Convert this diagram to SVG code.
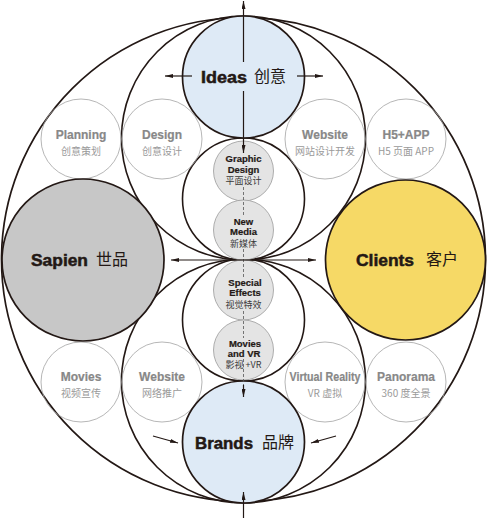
<svg xmlns="http://www.w3.org/2000/svg" width="488" height="518" viewBox="0 0 488 518">
<defs>
<style>
.ring{fill:none;stroke:#231815;stroke-width:1.6}
.ol{fill:none;stroke:#a3a3a3;stroke-width:0.8}
.gc{fill:#e4e4e4;stroke:#9a9a9a;stroke-width:0.8}
.big{stroke:#231815;stroke-width:1.7}
.en{font-family:"Liberation Sans",Arial,sans-serif;font-weight:bold}
.zh{font-family:"Noto Sans CJK SC","Liberation Sans",sans-serif}
.main{font-size:16.5px;fill:#231815;stroke:#231815;stroke-width:0.5}
.mainzh{font-size:16px;fill:#231815}
.gt{font-size:12px;fill:#888;stroke:#888;stroke-width:0.2;text-anchor:middle}
.gs{font-size:10px;fill:#9a9a9a;text-anchor:middle}
.ct{font-size:9.5px;fill:#231815;stroke:#231815;stroke-width:0.2;text-anchor:middle}
.cs{font-size:9px;fill:#3a3a3a;text-anchor:middle}
.arr{stroke:#231815;stroke-width:1.2;fill:none;marker-end:url(#ah)}
.dash{stroke:#555;stroke-width:0.8;stroke-dasharray:3 2;fill:none}
</style>
<marker id="ah" viewBox="0 0 8 4" refX="8" refY="2" markerWidth="8" markerHeight="4" markerUnits="userSpaceOnUse" orient="auto-start-reverse">
<path d="M0,0 L8,2 L0,4 z" fill="#231815"/>
</marker>
</defs>
<rect width="488" height="518" fill="#fff"/>
<g id="frame">
<circle cx="243.5" cy="259.5" r="242" fill="#fff" class="big"/>
<circle class="ring" cx="243.5" cy="138" r="122"/>
<circle class="ring" cx="243.5" cy="381" r="122"/>
<circle class="ring" cx="243.5" cy="199" r="61"/>
<circle class="ring" cx="243.5" cy="320" r="61"/>
</g>
<g id="planning"><circle class="ol" cx="81" cy="139" r="40"/><text class="en gt" x="81" y="139">Planning</text><text class="zh gs" x="81" y="154.5">创意策划</text></g>
<g id="design"><circle class="ol" cx="162" cy="139" r="40"/><text class="en gt" x="162" y="139">Design</text><text class="zh gs" x="162" y="154.5">创意设计</text></g>
<g id="website-dev"><circle class="ol" cx="325" cy="139" r="40"/><text class="en gt" x="325" y="139">Website</text><text class="zh gs" x="325" y="154.5">网站设计开发</text></g>
<g id="h5app"><circle class="ol" cx="406" cy="139" r="40"/><text class="en gt" x="406" y="139">H5+APP</text><text class="zh gs" x="406" y="154.5">H5 页面 APP</text></g>
<g id="movies"><circle class="ol" cx="81" cy="382" r="40"/><text class="en gt" x="81" y="381">Movies</text><text class="zh gs" x="81" y="396.5">视频宣传</text></g>
<g id="website-promo"><circle class="ol" cx="162" cy="382" r="40"/><text class="en gt" x="162" y="381">Website</text><text class="zh gs" x="162" y="396.5">网络推广</text></g>
<g id="vr"><circle class="ol" cx="325" cy="382" r="40"/><text class="en gt" x="325" y="381" textLength="71" lengthAdjust="spacingAndGlyphs">Virtual Reality</text><text class="zh gs" x="325" y="396.5">VR 虚拟</text></g>
<g id="panorama"><circle class="ol" cx="406" cy="382" r="40"/><text class="en gt" x="406" y="381">Panorama</text><text class="zh gs" x="406" y="396.5">360 度全景</text></g>
<g id="graphic-design"><circle class="gc" cx="243.5" cy="171" r="30"/><text class="en ct" x="243.5" y="162">Graphic</text><text class="en ct" x="243.5" y="172.5">Design</text><text class="zh cs" x="243.5" y="184">平面设计</text></g>
<g id="new-media"><circle class="gc" cx="243.5" cy="230" r="30"/><text class="en ct" x="243.5" y="225">New</text><text class="en ct" x="243.5" y="234.5">Media</text><text class="zh cs" x="243.5" y="247">新媒体</text></g>
<g id="special-effects"><circle class="gc" cx="243.5" cy="290" r="30"/><text class="en ct" x="245" y="286">Special</text><text class="en ct" x="245" y="296">Effects</text><text class="zh cs" x="243.5" y="308">视觉特效</text></g>
<g id="movies-vr"><circle class="gc" cx="243.5" cy="350" r="30"/><text class="en ct" x="245" y="347">Movies</text><text class="en ct" x="244" y="357">and VR</text><text class="zh cs" x="243.5" y="368">影视 +VR</text></g>
<g id="ideas"><circle class="big" cx="243.5" cy="77" r="61" fill="#deeaf6"/><text class="en main" x="201" y="83" textLength="46" lengthAdjust="spacingAndGlyphs">Ideas</text><text class="zh mainzh" x="254" y="82">创意</text></g>
<g id="brands"><circle class="big" cx="243.5" cy="442" r="61" fill="#deeaf6"/><text class="en main" x="195" y="449" textLength="58" lengthAdjust="spacingAndGlyphs">Brands</text><text class="zh mainzh" x="262" y="448">品牌</text></g>
<g id="sapien"><circle class="big" cx="83" cy="260" r="81" fill="#c7c7c7"/><text class="en main" x="31" y="266" textLength="57" lengthAdjust="spacingAndGlyphs">Sapien</text><text class="zh mainzh" x="96" y="265">世品</text></g>
<g id="clients"><circle class="big" cx="405.5" cy="260" r="80" fill="#f6d966"/><text class="en main" x="356" y="266" textLength="58" lengthAdjust="spacingAndGlyphs">Clients</text><text class="zh mainzh" x="426" y="265">客户</text></g>
<g id="connectors">
<path class="dash" d="M243.5,187V216M243.5,249V278M243.5,311V338M243.5,359V386"/>
<path class="arr" d="M243.5,62V1"/>
<path class="arr" d="M243.5,91V153"/>
<path class="arr" d="M192,76H165"/>
<path class="arr" d="M297,76H323"/>
<path class="arr" d="M171,260H316" style="marker-start:url(#ah)"/>
<path class="arr" d="M243.5,385V397"/>
<path class="arr" d="M243.5,518V492"/>
<path class="arr" d="M153,436L178,443"/>
<path class="arr" d="M336,436L311,443"/>
</g>
</svg>
